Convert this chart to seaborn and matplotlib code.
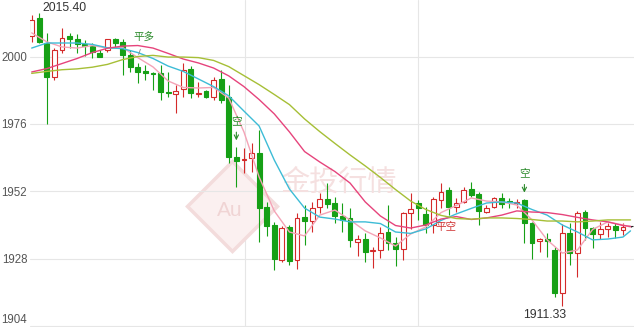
import matplotlib
matplotlib.use("Agg")
import matplotlib.pyplot as plt
import seaborn as sns
import pandas as pd

# ---------------- data ----------------
opens = [2007.3, 2013.6, 2004.7, 1992.6, 2002.3, 2007.3, 2006.1, 2004.4, 2003.7, 2001.4,
         2002.3, 2006.1, 2005.3, 2000.5, 1996.4, 1994.9, 1994.2, 1994.0, 1987.5, 1986.6,
         1988.3, 1995.5, 1986.7, 1987.8, 1985.7, 1991.9, 1985.7, 1964.2, 1963.3, 1963.8,
         1965.8, 1946.6, 1940.1, 1927.7, 1939.3, 1927.7, 1943.1, 1941.6, 1946.4, 1949.2,
         1947.8, 1943.3, 1942.5, 1934.2, 1935.0, 1931.0, 1931.2, 1937.7, 1933.6, 1931.5,
         1944.5, 1947.9, 1944.0, 1940.1, 1949.0, 1952.5, 1946.4, 1948.4, 1952.8, 1951.1,
         1944.8, 1946.4, 1949.6, 1948.45, 1947.9, 1949.0, 1940.7, 1934.5, 1935.0, 1931.2,
         1916.0, 1937.2, 1930.1, 1944.8, 1938.9, 1936.9, 1938.6, 1939.8, 1938.3, 1939.7]
closes = [2013.0, 2005.3, 1992.6, 2002.3, 2006.5, 2006.1, 2004.3, 2003.7, 2001.7, 1999.9,
          2006.1, 2004.9, 2000.5, 1996.4, 1994.6, 1994.0, 1993.8, 1987.5, 1986.9, 1987.8,
          1995.2, 1986.9, 1987.1, 1985.7, 1991.6, 1984.5, 1964.4, 1963.0, 1963.45, 1965.8,
          1946.0, 1939.7, 1927.9, 1938.9, 1927.4, 1942.5, 1941.6, 1946.0, 1949.2, 1947.4,
          1943.3, 1941.9, 1934.8, 1935.0, 1930.6, 1931.3, 1937.4, 1933.8, 1931.5, 1944.3,
          1945.7, 1946.1, 1940.1, 1949.2, 1951.9, 1946.6, 1948.0, 1952.5, 1950.8, 1945.2,
          1946.0, 1949.6, 1947.6, 1948.3, 1948.1, 1940.7, 1933.8, 1935.0, 1934.4, 1915.8,
          1937.4, 1930.1, 1944.3, 1938.9, 1936.9, 1938.6, 1939.8, 1938.3, 1939.5, 1939.7]
highs = [2014.8, 2015.4, 2008.2, 2002.9, 2010.0, 2008.2, 2007.9, 2005.9, 2004.7, 2002.3,
         2006.3, 2006.5, 2006.1, 2002.3, 1997.7, 1997.0, 1994.5, 1997.0, 1994.6, 1989.9,
         1997.8, 1996.6, 1991.1, 1988.1, 1992.8, 1995.2, 1989.9, 1967.9, 1967.5, 1969.1,
         1973.9, 1948.4, 1941.2, 1939.7, 1940.1, 1944.4, 1947.2, 1948.4, 1951.6, 1954.9,
         1950.2, 1947.8, 1946.0, 1936.5, 1937.3, 1932.3, 1939.5, 1947.2, 1935.9, 1944.8,
         1951.4, 1949.0, 1946.6, 1950.2, 1954.9, 1953.7, 1949.6, 1953.7, 1955.5, 1951.9,
         1947.2, 1950.2, 1951.4, 1949.6, 1949.2, 1949.3, 1941.2, 1935.3, 1937.3, 1932.4,
         1940.4, 1940.7, 1945.2, 1945.4, 1939.4, 1941.3, 1940.7, 1940.9, 1940.9, 1939.9]
lows = [2005.2, 2004.7, 1976.0, 1991.6, 2001.1, 2002.9, 2001.1, 2000.2, 1999.4, 1999.8,
        2001.7, 2003.5, 1993.4, 1994.6, 1990.5, 1991.7, 1988.1, 1984.5, 1985.7, 1979.9,
        1985.7, 1985.1, 1985.7, 1985.1, 1984.5, 1983.4, 1962.1, 1953.7, 1958.6, 1959.1,
        1934.2, 1936.0, 1924.1, 1926.9, 1925.9, 1924.3, 1933.0, 1937.7, 1944.5, 1946.0,
        1940.7, 1937.7, 1932.4, 1929.1, 1927.0, 1924.7, 1928.3, 1931.2, 1925.5, 1927.7,
        1938.6, 1941.9, 1937.1, 1937.1, 1946.0, 1943.6, 1944.8, 1947.8, 1950.2, 1940.1,
        1944.3, 1946.0, 1946.0, 1946.0, 1946.0, 1933.6, 1927.9, 1930.6, 1928.8, 1914.6,
        1911.33, 1925.9, 1921.7, 1934.8, 1931.8, 1935.0, 1935.7, 1935.4, 1936.5, 1939.5]

# moving-average lines, read at every second candle (plus the last one)
ma_idx = list(range(0, 80, 2)) + [79]
ma5 = [2008.4, 2005.2, 2003.4, 2003.0, 2003.9, 2003.0, 2003.2, 1999.6, 1996.3, 1991.3,
       1989.0, 1988.8, 1989.0, 1985.2, 1973.2, 1957.2, 1945.1, 1937.6, 1936.2, 1943.6,
       1945.4, 1941.9, 1938.0, 1935.5, 1932.6, 1936.9, 1939.4, 1944.5, 1947.0, 1949.7,
       1948.6, 1948.3, 1947.2, 1941.9, 1934.8, 1930.1, 1931.2, 1938.5, 1941.2, 1940.1, 1939.4]
ma10 = [2003.0, 2004.8, 2004.8, 2004.8, 2004.3, 2003.1, 2002.8, 2001.4, 1999.3, 1996.6,
        1994.7, 1992.0, 1989.3, 1986.0, 1980.6, 1975.3, 1963.2, 1952.9, 1946.1, 1942.9,
        1942.2, 1941.2, 1941.2, 1940.6, 1937.6, 1937.1, 1938.7, 1941.7, 1944.0, 1946.0,
        1947.9, 1948.3, 1947.9, 1945.6, 1943.6, 1940.1, 1937.6, 1934.8, 1935.1, 1935.8, 1938.0]
ma20 = [1994.5, 1995.7, 1997.5, 1999.3, 2001.4, 2002.95, 2003.7, 2003.9, 2003.0, 2001.1,
        1999.1, 1997.7, 1995.9, 1993.1, 1989.3, 1984.7, 1979.6, 1973.2, 1966.2, 1962.5,
        1959.1, 1955.0, 1948.3, 1943.3, 1939.9, 1939.0, 1940.1, 1942.2, 1943.1, 1942.05,
        1942.6, 1943.6, 1945.1, 1944.7, 1944.5, 1943.8, 1942.8, 1941.9, 1941.2, 1939.9, 1939.6]
ma30 = [1994.0, 1994.7, 1995.3, 1995.6, 1996.2, 1997.2, 1998.9, 2000.0, 2000.4, 1999.8,
        1999.8, 1999.6, 1998.6, 1996.4, 1993.2, 1990.0, 1986.5, 1982.9, 1977.8, 1973.3,
        1969.1, 1965.0, 1961.1, 1957.0, 1952.7, 1948.6, 1945.6, 1943.5, 1942.4, 1942.15,
        1942.6, 1942.6, 1942.4, 1942.05, 1941.5, 1941.5, 1941.2, 1941.5, 1941.9, 1941.9, 1941.9]

y_ticks = [1904, 1928, 1952, 1976, 2000]
high_label = "2015.40"
low_label = "1911.33"

# ---------------- style ----------------
sns.set_theme(style="white")
plt.rcParams["font.family"] = ["Liberation Sans", "Noto Sans CJK SC", "DejaVu Sans"]
CJK = ["Noto Sans CJK SC", "DejaVu Sans"]

UP = "#d42a2a"
DOWN = "#16a016"
FLAT = "#222222"
ANN_GREEN = "#2a8a2a"
palette = {"MA5": "#f4a3b6", "MA10": "#3dbcd6", "MA20": "#e6447c", "MA30": "#a6bf36"}

fig = plt.figure(figsize=(6.34, 3.27), dpi=100)
ax = fig.add_axes([30 / 634, 0, 604 / 634, 1])

n = len(opens)
x = list(range(n))

# candles
for i in x:
    o, c, h, l = opens[i], closes[i], highs[i], lows[i]
    if c > o:
        col, face = UP, "white"
    elif c < o:
        col, face = DOWN, DOWN
    else:
        col, face = FLAT, FLAT
    ax.vlines(i, l, h, color=col, lw=0.8, zorder=2)
    ax.bar(i, max(abs(c - o), 0.05), bottom=min(o, c), width=0.64,
           facecolor=face, edgecolor=col, linewidth=0.8, zorder=3)

# moving averages through seaborn
df = pd.DataFrame({
    "idx": ma_idx * 4,
    "value": ma5 + ma10 + ma20 + ma30,
    "series": ["MA5"] * len(ma5) + ["MA10"] * len(ma10) + ["MA20"] * len(ma20) + ["MA30"] * len(ma30),
})
sns.lineplot(data=df, x="idx", y="value", hue="series", palette=palette,
             linewidth=1.0, legend=False, ax=ax, zorder=4, errorbar=None)

# watermark
ax.plot([0.335], [0.37], marker="D", ms=46, color="#fbf0f0", mec="#f3dcdc", mew=2.5,
        transform=ax.transAxes, zorder=0.5)
ax.text(0.33, 0.355, "Au", transform=ax.transAxes, ha="center", va="center",
        fontsize=15, color="#f0d4d4", zorder=0.6)
ax.text(0.51, 0.44, "金投行情", transform=ax.transAxes, ha="center", va="center",
        fontsize=21, color="#f5e0e0", family=CJK, zorder=0.6)

# axes styling
ax.set_xlim(-0.224, 79.46)
ax.set_ylim(1903.82, 2020.09)
ax.set_yticks(y_ticks)
ax.set_yticklabels([str(t) for t in y_ticks])
ax.set_xticks([])
ax.yaxis.grid(True, color="#e6e6e6", lw=0.8, zorder=0)
for gx in (28.1, 51.0):
    ax.axvline(gx, color="#e6e6e6", lw=0.8, zorder=0)
ax.tick_params(axis="y", length=0, pad=2, labelsize=8.3, labelcolor="#555555")
ax.set_xlabel("")
ax.set_ylabel("")
for s in ax.spines.values():
    s.set_visible(False)
ax.get_yticklabels()[0].set_verticalalignment("bottom")

# high / low labels
hi_i = highs.index(max(highs))
lo_i = lows.index(min(lows))
ax.annotate(high_label, xy=(hi_i, highs[hi_i]), xytext=(3, 2), textcoords="offset pixels",
            ha="left", va="baseline", fontsize=8.8, color="#333333", zorder=6)
ax.annotate(low_label, xy=(lo_i, lows[lo_i]), xytext=(4, -3), textcoords="offset pixels",
            ha="right", va="top", fontsize=8.8, color="#333333", zorder=6)

# trade signals
ax.annotate("平多", xy=(14, highs[14] + 2.0), xytext=(6, 14), textcoords="offset pixels",
            ha="center", va="bottom", fontsize=7.6, color=ANN_GREEN, family=CJK,
            arrowprops=dict(arrowstyle="-", color="#888888", lw=0.6), zorder=6)
ax.annotate("空", xy=(27, highs[27] + 1.3), xytext=(0, 17), textcoords="offset pixels",
            ha="center", va="bottom", fontsize=7.6, color=ANN_GREEN, family=CJK,
            arrowprops=dict(arrowstyle="->", color=ANN_GREEN, lw=0.8), zorder=6)
ax.annotate("空", xy=(65, highs[65] + 1.3), xytext=(0, 17), textcoords="offset pixels",
            ha="center", va="bottom", fontsize=7.6, color=ANN_GREEN, family=CJK,
            arrowprops=dict(arrowstyle="->", color=ANN_GREEN, lw=0.8), zorder=6)
ax.annotate("平空", xy=(54, lows[54]), xytext=(5, -14), textcoords="offset pixels",
            ha="center", va="top", fontsize=7.6, color="#d03535", family=CJK, zorder=6)

fig.savefig("out.png", dpi=100)
